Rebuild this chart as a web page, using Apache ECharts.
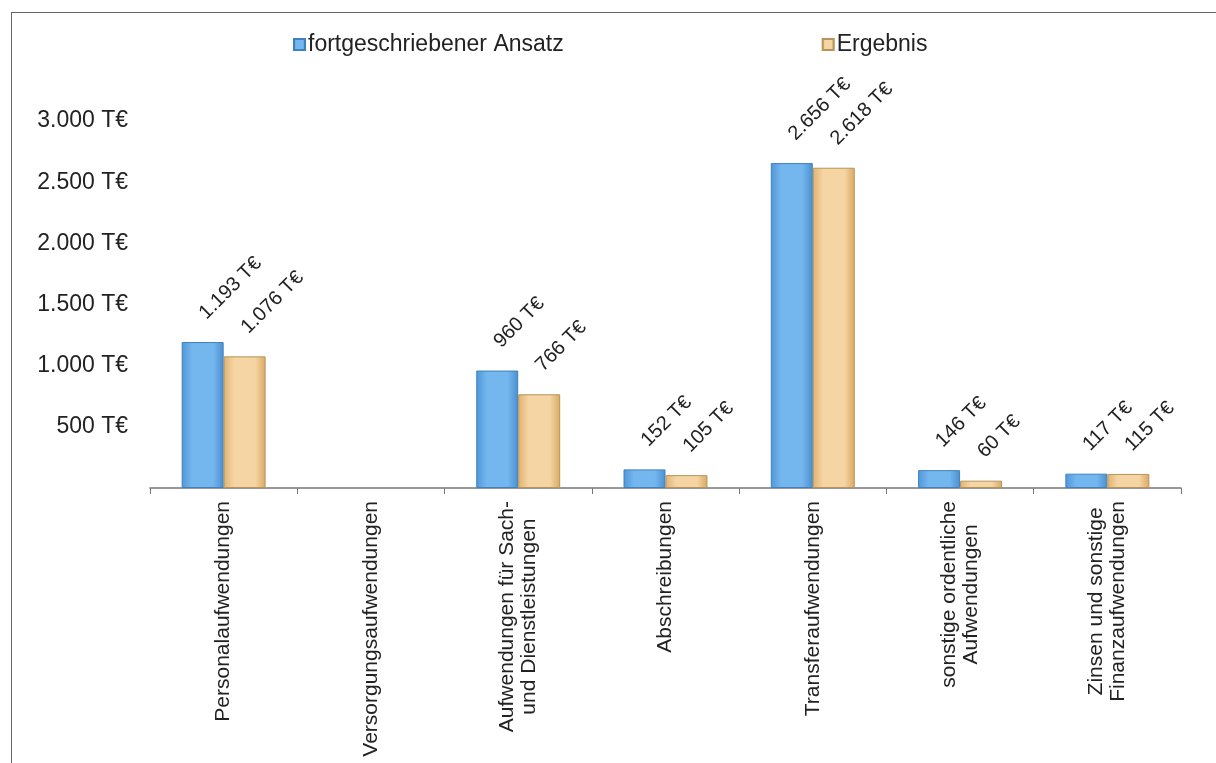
<!DOCTYPE html>
<html><head><meta charset="utf-8">
<script src="https://cdn.jsdelivr.net/npm/echarts@6/dist/echarts.min.js"></script>
<style>
html,body{margin:0;padding:0;background:#fff;overflow:hidden;}
#frame{position:absolute;left:11px;top:12px;width:1400px;height:1000px;border:1.5px solid #666;box-sizing:border-box;}
#c{position:absolute;left:0;top:0;width:1216px;height:763px;}
</style></head>
<body>
<div id="frame"></div>
<div id="c"></div>
<script>
var categories = ['Personalaufwendungen','Versorgungsaufwendungen','Aufwendungen für Sach-\nund Dienstleistungen','Abschreibungen','Transferaufwendungen','sonstige ordentliche\nAufwendungen','Zinsen und sonstige\nFinanzaufwendungen'];
var ansatz = [1193, null, 960, 152, 2656, 146, 117];
var ergebnis = [1076, null, 766, 105, 2618, 60, 115];
var seriesNames = ['fortgeschriebener Ansatz','Ergebnis'];

function fmt(v){ return String(v).replace(/\B(?=(\d{3})+(?!\d))/g,'.') + ' T€'; }

var blueGrad = new echarts.graphic.LinearGradient(0,0,1,0,[
  {offset:0,color:'#4f97d8'},{offset:0.25,color:'#74b6ee'},{offset:0.75,color:'#74b6ee'},{offset:1,color:'#4a8fd0'}]);
var orangeGrad = new echarts.graphic.LinearGradient(0,0,1,0,[
  {offset:0,color:'#dfb271'},{offset:0.25,color:'#f6d5a4'},{offset:0.75,color:'#f6d5a4'},{offset:1,color:'#d9a962'}]);

var labelCfg = {
  show:true, position:'top', rotate:45, align:'left', verticalAlign:'middle', distance:26,
  fontFamily:'Liberation Sans', fontSize:20, color:'#222',
  formatter:function(p){ return p.value==null?'':fmt(p.value); }
};

var chart = echarts.init(document.getElementById('c'));
chart.setOption({
  animation:false,
  textStyle:{fontFamily:'Liberation Sans'},
  legend:{
    top:28, left:288, itemGap:258, itemWidth:11, itemHeight:11,
    icon:'rect',
    textStyle:{fontFamily:'Liberation Sans', fontSize:23, color:'#222', padding:[0,0,0,-2]},
    data:seriesNames
  },
  grid:{left:150, right:35, top:121, bottom:275},
  xAxis:{
    type:'category', data:categories,
    axisLine:{lineStyle:{color:'#777', width:1.5}},
    axisTick:{show:true, length:6, lineStyle:{color:'#777'}},
    axisLabel:{rotate:90, interval:0, margin:13, fontFamily:'Liberation Sans', fontSize:21, lineHeight:22, color:'#222',
      formatter:function(v){ return v.split('\n').map(function(s){return '{c|'+s+'}';}).join('\n'); },
      rich:{c:{align:'center', fontFamily:'Liberation Sans', fontSize:21, lineHeight:22, color:'#222'}}}
  },
  yAxis:{
    type:'value', min:0, max:3000, interval:500,
    axisLine:{show:false}, axisTick:{show:false}, splitLine:{show:false},
    axisLabel:{margin:22, fontFamily:'Liberation Sans', fontSize:23, color:'#222',
      formatter:function(v){ return v===0?'':fmt(v); }}
  },
  series:[
    {name:seriesNames[0], type:'bar', data:ansatz, barGap:'0%', barCategoryGap:'43%',
     itemStyle:{color:blueGrad, borderColor:'#3f80bf', borderWidth:1}, label:labelCfg},
    {name:seriesNames[1], type:'bar', data:ergebnis,
     itemStyle:{color:orangeGrad, borderColor:'#b8935a', borderWidth:1}, label:labelCfg}
  ]
});
</script>
</body></html>
